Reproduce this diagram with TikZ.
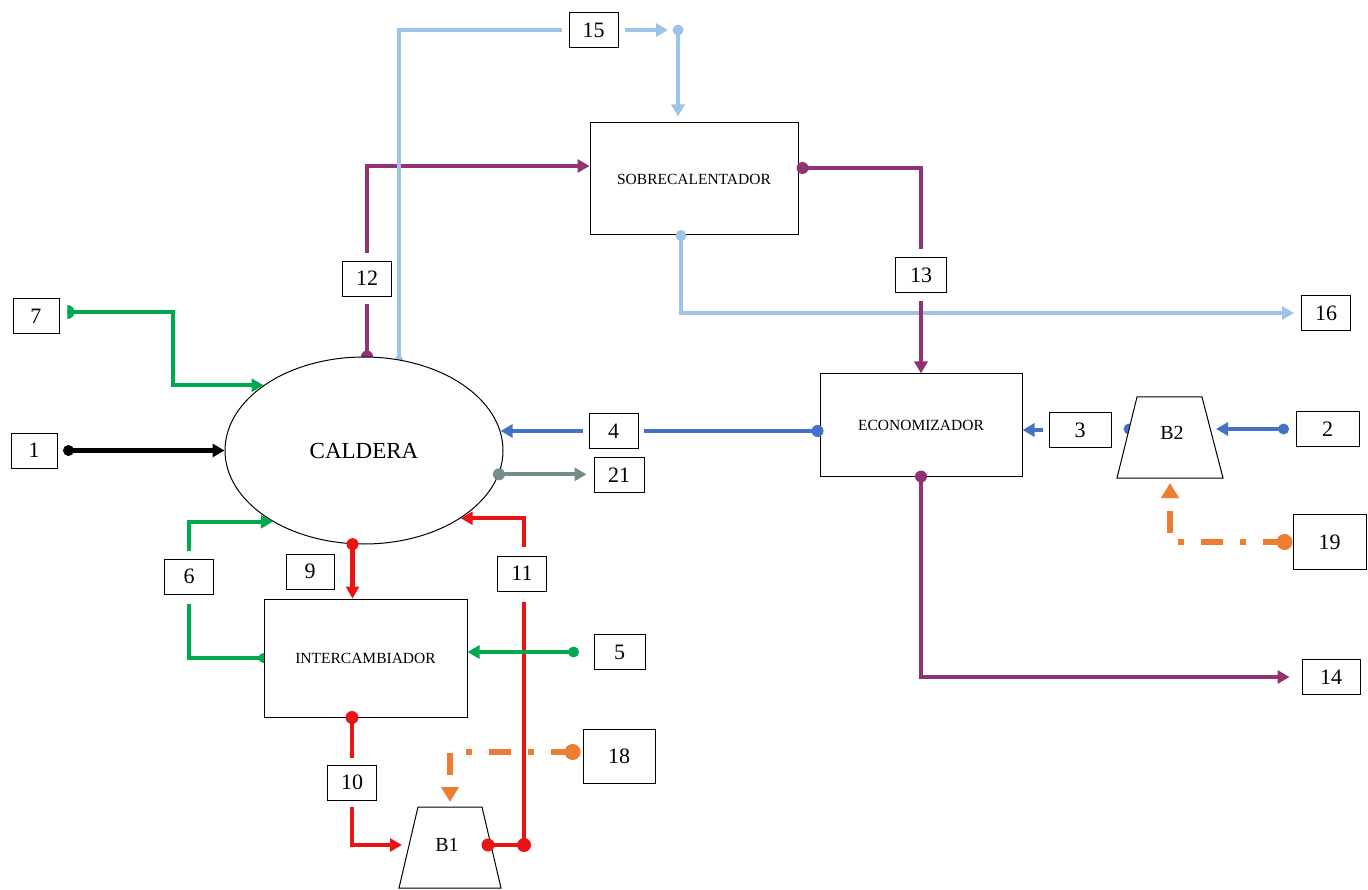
\documentclass[tikz,border=0pt]{standalone}
\usepackage{fontspec}
\setmainfont{Liberation Serif}
\usetikzlibrary{arrows.meta,shapes.geometric,backgrounds}
\definecolor{cgreen}{RGB}{0,168,80}
\definecolor{cred}{RGB}{235,20,20}
\definecolor{cpurple}{RGB}{145,50,115}
\definecolor{cblue}{RGB}{68,114,196}
\definecolor{clblue}{RGB}{157,195,230}
\definecolor{cgray}{RGB}{115,140,140}
\definecolor{corange}{RGB}{237,125,49}
\begin{document}
\begin{tikzpicture}[x=1pt,y=-1pt,
  lbl/.style={draw,line width=0.9pt,fill=white,inner sep=0pt,minimum width=49pt,minimum height=35pt,font=\fontsize{22}{24}\selectfont},
  unitbox/.style={draw,line width=1pt,fill=white,inner sep=0pt,font=\fontsize{15.5}{17}\selectfont},
  arr/.style={-{Triangle[length=12pt,width=13pt]}},
  arrbig/.style={-{Triangle[length=15pt,width=17pt]}},
  fl/.style={line width=4.2pt},
  orangedash/.style={line width=5.5pt,corange,dash pattern=on 22pt off 17pt on 6pt off 17pt},
  pump/.style={fill=white,draw,line width=1pt}
]
\useasboundingbox (0,0) rectangle (1368,890);

% ---- units
\node[unitbox,ellipse,minimum width=278pt,minimum height=187pt,font=\fontsize{23}{25}\selectfont] (cal) at (364,450.5) {CALDERA};
\node[unitbox,minimum width=208pt,minimum height=112pt] (sob) at (694,179) {SOBRECALENTADOR};
\node[unitbox,minimum width=202pt,minimum height=102pt] (eco) at (921,425) {ECONOMIZADOR};
\node[unitbox,minimum width=203pt,minimum height=118pt] (int) at (365.5,658) {INTERCAMBIADOR};

\draw[pump] (418,807) -- (482,807) -- (501,888) -- (399,888) -- cycle;
\node[font=\fontsize{20}{22}\selectfont] (B1) at (447,845) {B1};
\coordinate (B1t) at (450,807);
\coordinate (B1l) at (409,845);
\coordinate (B1r) at (491,845);

\draw[pump] (1137,397) -- (1202,397) -- (1223,478) -- (1117,478) -- cycle;
\node[font=\fontsize{20}{22}\selectfont] (B2) at (1172,433) {B2};
\coordinate (B2l) at (1129,429);
\coordinate (B2r) at (1210,429);
\coordinate (B2b) at (1170,478);

% ---- stream labels
\node[lbl] (n15) at (593.5,30) {15};
\node[lbl] (n12) at (367,278.5) {12};
\node[lbl,minimum width=51pt] (n13) at (921,275) {13};
\node[lbl] (n16) at (1326,313) {16};
\node[lbl,minimum width=46pt] (n7) at (36,316) {7};
\node[lbl,minimum width=46pt] (n1) at (34,450.5) {1};
\node[lbl] (n4) at (613.5,431) {4};
\node[lbl,minimum width=50pt] (n21) at (619,475) {21};
\node[lbl,minimum width=62pt] (n3) at (1080,430) {3};
\node[lbl,minimum width=63pt] (n2) at (1327.5,429) {2};
\node[lbl,minimum width=73pt,minimum height=55pt] (n19) at (1329.5,542) {19};
\node[lbl] (n6) at (189,576.5) {6};
\node[lbl,minimum width=48pt] (n9) at (310,571.5) {9};
\node[lbl] (n11) at (522,573.5) {11};
\node[lbl,minimum width=51pt] (n5) at (619.5,652) {5};
\node[lbl] (n10) at (352,782.5) {10};
\node[lbl,minimum width=72pt,minimum height=54pt] (n18) at (619,756) {18};
\node[lbl,minimum width=58pt] (n14) at (1331,677) {14};

\coordinate (j15) at (678,30);
\coordinate (j11) at (524,845);

% ---- half hidden dots
\begin{scope}[on background layer]
\fill[cpurple] (n12.south |- cal.north) circle (6);
\fill[clblue] (cal.69) circle (4);
\fill[cblue] (B2l) circle (5.5);
\fill[cgreen] (int.west) circle (5);
\end{scope}

% 1
\draw[fl,black,arr] ([xshift=11pt]n1.east) -- (cal.west);
\fill[black] ([xshift=11pt]n1.east) circle (5.5);
% 7
\draw[fl,cgreen,arr] ([xshift=8pt,yshift=4pt]n7.east) -- (173,312) |- (cal.147);
\fill[cgreen] ([xshift=8pt,yshift=4pt]n7.east) ++(0,7) arc[start angle=90,end angle=-90,radius=7] -- cycle;
% 12
\draw[fl,cpurple,shorten >=8pt] (n12.south |- cal.north) -- (n12.south);
\draw[fl,cpurple,arr,shorten <=8pt] (n12.north) |- ([yshift=13pt]sob.west);
% 15
\draw[fl,clblue,shorten >=7pt] (cal.69) -- (cal.69 |- n15.west) -- (n15.west);
\draw[fl,clblue,arr,shorten <=7pt,shorten >=10pt] (n15.east) -- (j15);
\fill[clblue] (j15) circle (5.5);
\draw[fl,clblue,arr,shorten >=6pt] (j15) -- (j15 |- sob.north);
% 16
\draw[fl,clblue,arr,shorten >=7pt] ([xshift=-13pt]sob.south) |- (n16.west);
\fill[clblue] ([xshift=-13pt]sob.south) circle (5.5);
% 13
\draw[fl,cpurple,shorten >=8pt] ([yshift=11pt]sob.east) -| (n13.north);
\draw[fl,cpurple,arr,shorten <=8pt] (n13.south) -- (eco.north);
\fill[cpurple] ([yshift=11pt]sob.east) ++(4,0) circle (6);
% 4
\draw[fl,cblue,shorten >=6pt] ([yshift=-6pt]eco.west) -- (n4.east);
\draw[fl,cblue,arr,shorten <=6pt] (n4.west) -- (n4.west -| cal.8);
\fill[cblue] ([yshift=-6pt]eco.west) ++(-2,0) circle (6);
% 21
\draw[fl,cgray,arr,shorten >=7pt] (cal.-10) -- (cal.-10 -| n21.west);
\fill[cgray] (cal.-10) circle (6);
% 3
\draw[fl,cblue,arr,shorten <=6pt] (n3.west) -- (n3.west -| eco.east);
% 2
\draw[fl,cblue,arr,shorten >=6pt] ([xshift=-12pt]n2.west) -- (B2r);
\fill[cblue] ([xshift=-12pt]n2.west) circle (5.5);
% 19
\draw[orangedash,arrbig,shorten >=5pt] ([xshift=-8pt]n19.west) -| (B2b);
\fill[corange] ([xshift=-8pt]n19.west) circle (8);
% 14
\draw[fl,cpurple,arr,shorten >=12pt] (eco.south) |- (n14.west);
\fill[cpurple] (eco.south) circle (6);
% 9
\draw[fl,cred,arr] (cal.263) -- (cal.263 |- int.north);
\fill[cred] (cal.263) circle (6);
% 6
\draw[fl,cgreen,shorten >=10pt] (int.west) -| (n6.south);
\draw[fl,cgreen,arr,shorten <=8pt] (n6.north) |- (cal.218);
% 11
\draw[fl,cred,shorten >=11pt] (B1r) -- (j11) -- (j11 |- n11.south);
\draw[fl,cred,arr,shorten <=9pt] (j11 |- n11.north) |- (cal.325);
\fill[cred] (j11) circle (7);
\fill[cred] (B1r) ++(-3,0) circle (6.5);
% 5
\draw[fl,cgreen,arr] ([xshift=-20pt]n5.west) -- (n5.west -| int.east);
\fill[cgreen] ([xshift=-20pt]n5.west) circle (5.5);
% 10
\draw[fl,cred,shorten >=7pt] ([xshift=-13.5pt]int.south) -- (n10.north);
\draw[fl,cred,arr,shorten <=7pt,shorten >=7pt] (n10.south) |- (B1l);
\fill[cred] ([xshift=-13.5pt]int.south) circle (6.5);
% 18
\draw[orangedash,arrbig,shorten >=5pt] ([xshift=-10pt,yshift=4pt]n18.west) -| (B1t);
\fill[corange] ([xshift=-10pt,yshift=4pt]n18.west) circle (8);
\end{tikzpicture}
\end{document}
